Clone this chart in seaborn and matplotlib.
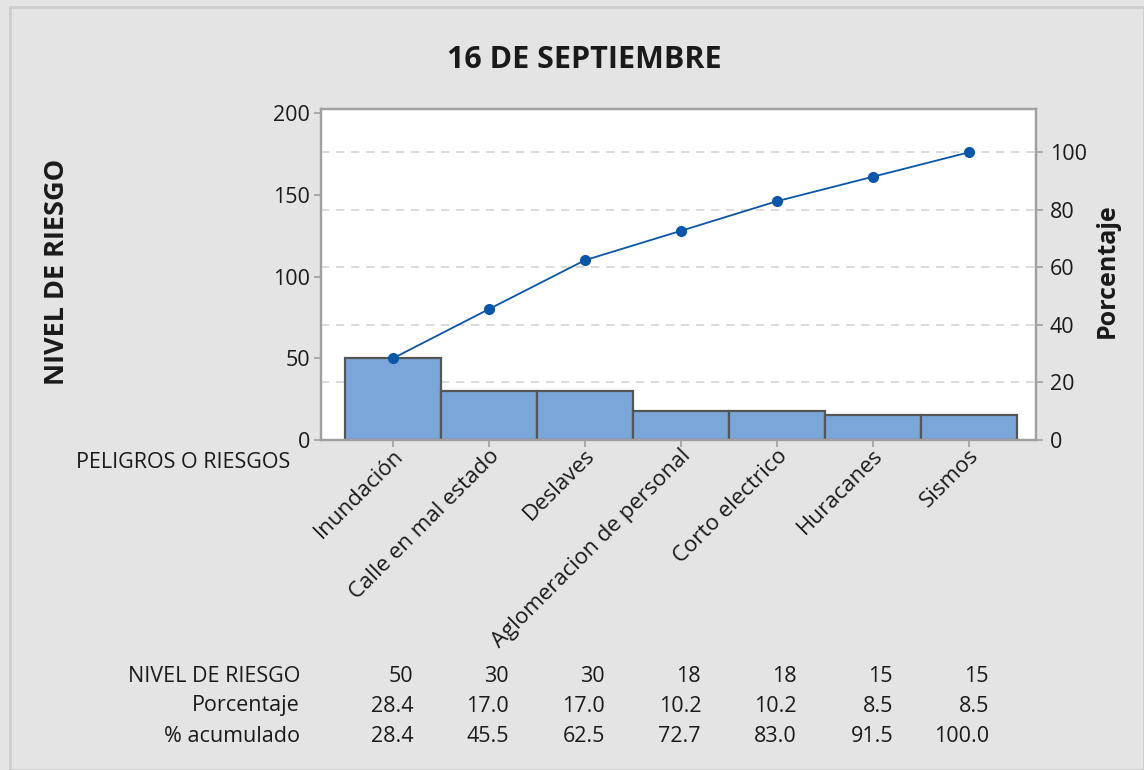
import numpy as np
import matplotlib
matplotlib.use("Agg")
import matplotlib.pyplot as plt
import matplotlib.transforms as mtransforms
from matplotlib.patches import Rectangle
import seaborn as sns

# Pareto data: risk level per hazard, sorted descending
categorias = ["Inundación", "Calle en mal estado", "Deslaves",
              "Aglomeracion de personal", "Corto electrico", "Huracanes", "Sismos"]
nivel_riesgo = [50, 30, 30, 18, 18, 15, 15]
porcentaje = [28.4, 17.0, 17.0, 10.2, 10.2, 8.5, 8.5]
acumulado = [28.4, 45.5, 62.5, 72.7, 83.0, 91.5, 100.0]
pct_ticks = [0, 20, 40, 60, 80, 100]
nivel_ticks = [0, 50, 100, 150, 200]

sns.set_theme(style="white")
plt.rcParams["font.family"] = ["Open Sans", "Noto Sans", "DejaVu Sans"]

BG = "#E4E4E4"
BAR = "#7BA6D9"
EDGE = "#555555"
LINE = "#0A56A8"
SPINE = "#A0A0A0"
TXT = "#1A1A1A"
FS = 15.5

fig = plt.figure(figsize=(11.44, 7.70), dpi=100, facecolor=BG)
fig.patches.append(Rectangle((10 / 1144, 0), 1 - 10 / 1144, 1 - 7 / 770,
                             transform=fig.transFigure, fill=False,
                             edgecolor="#CDCDCD", linewidth=2))

ax = fig.add_axes([321 / 1144, 1 - 440 / 770, (1036 - 321) / 1144, (440 - 109) / 770])
ax.set_facecolor("white")

total = sum(nivel_riesgo)
ymax = 202.5

sns.barplot(x=categorias, y=nivel_riesgo, width=1.0, color=BAR, saturation=1,
            edgecolor=EDGE, linewidth=1.6, ax=ax, zorder=2)
ax.set_xlim(-0.75, 6.70)
ax.set_ylim(0, ymax)
ax.set_yticks(nivel_ticks)

ax2 = ax.twinx()
ax2.set_ylim(0, ymax / total * 100)
ax2.set_yticks(pct_ticks)

# dashed grid at the percentage ticks, drawn behind the bars
grid_tr = mtransforms.blended_transform_factory(ax.transAxes, ax2.transData)
for p in pct_ticks[1:]:
    ax.plot([0, 1], [p, p], transform=grid_tr, color="#D4D4D4",
            lw=1.2, ls=(0, (5, 4)), zorder=1)

sns.lineplot(x=np.arange(len(categorias)), y=acumulado, ax=ax2, color=LINE,
             lw=1.3, marker="o", markersize=8, markeredgewidth=0, zorder=3)

for a in (ax, ax2):
    for s in a.spines.values():
        s.set_color(SPINE)
        s.set_linewidth(1.6)
    a.tick_params(axis="both", colors=SPINE, labelcolor=TXT, labelsize=FS,
                  length=5, width=1.2, direction="out")
ax.tick_params(axis="y", left=True, pad=3)
ax2.tick_params(axis="y", right=True, pad=5)
ax.tick_params(axis="x", bottom=True, pad=4)
ax.set_xlabel("")
ax.set_ylabel("")
ax2.set_ylabel("")
ax.set_xticks(range(len(categorias)))
ax.set_xticklabels(categorias, rotation=45, ha="right", va="center",
                   rotation_mode="anchor", fontsize=16, color=TXT)
for lbl in ax.get_xticklabels():
    lbl.set_transform(lbl.get_transform() + mtransforms.ScaledTranslation(7 / 100, 0, fig.dpi_scale_trans))

fig.text(584 / 1144, 1 - 60 / 770, "16 DE SEPTIEMBRE", ha="center", va="center",
         fontsize=22, fontweight="bold", color=TXT)
fig.text(57 / 1144, 1 - 272 / 770, "NIVEL DE RIESGO", ha="center", va="center",
         rotation=90, fontsize=19.5, fontweight="bold", color=TXT)
fig.text(1107 / 1144, 1 - 271 / 770, "Porcentaje", ha="center", va="center",
         rotation=90, fontsize=18, fontweight="bold", color=TXT)
fig.text(290 / 1144, 1 - 462 / 770, "PELIGROS O RIESGOS", ha="right", va="center",
         fontsize=FS, color=TXT)

# summary table under the chart
tab_tr = mtransforms.blended_transform_factory(ax.transData, fig.transFigure)
filas = [("NIVEL DE RIESGO", [str(v) for v in nivel_riesgo], 677),
         ("Porcentaje", [f"{v:.1f}" for v in porcentaje], 706),
         ("% acumulado", [f"{v:.1f}" for v in acumulado], 736)]
for etiqueta, valores, ypix in filas:
    yf = 1 - ypix / 770
    fig.text(300 / 1144, yf, etiqueta, ha="right", va="center", fontsize=FS, color=TXT)
    for i, v in enumerate(valores):
        ax.text(i + 0.21, yf, v, transform=tab_tr, ha="right", va="center",
                fontsize=FS, color=TXT, clip_on=False)

fig.savefig("out.png", dpi=100, facecolor=BG)
